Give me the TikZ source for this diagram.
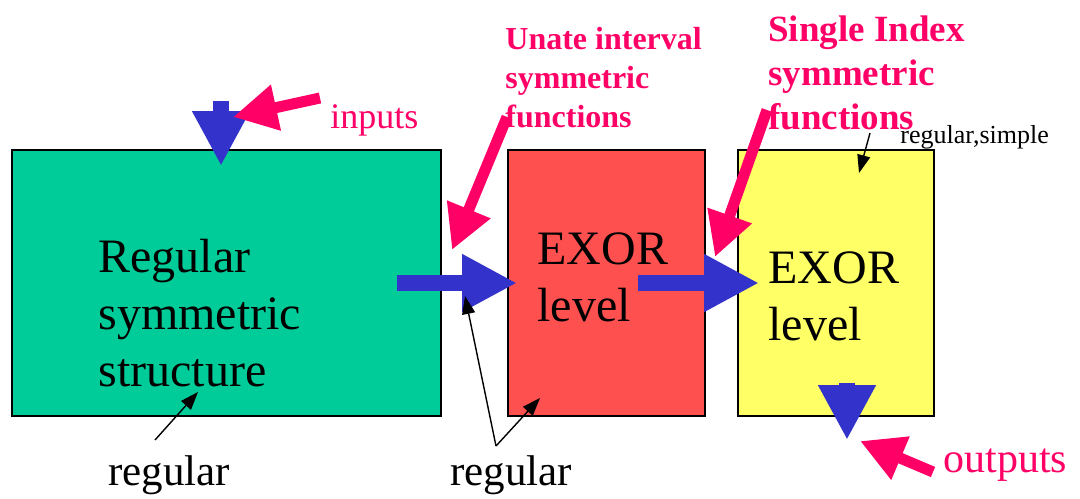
\documentclass[tikz,border=0pt]{standalone}
\usepackage{fontspec}
\setmainfont{Liberation Serif}
\usetikzlibrary{arrows.meta, positioning}
\definecolor{boxgreen}{HTML}{00CC99}
\definecolor{boxred}{HTML}{FF5050}
\definecolor{boxyellow}{HTML}{FFFF66}
\definecolor{flowblue}{HTML}{3333CC}
\definecolor{notepink}{HTML}{FF0066}
\tikzset{
  block/.style={rectangle, draw=black, line width=1pt, minimum height=133pt, outer sep=0pt, inner sep=0pt},
  blocktext/.style={anchor=north west, inner sep=0pt, align=left, font=\fontsize{24}{28.5}\selectfont},
  note/.style={inner sep=0pt, text=notepink},
  bignote/.style={note, anchor=north west, align=left, font=\bfseries\fontsize{16}{19.5}\selectfont},
  plain/.style={inner sep=0pt, anchor=base west, font=\fontsize{21.5}{26}\selectfont},
  flow/.style={flowblue, line width=8pt, -{Triangle[width=27pt,length=27.5pt]}},
  pointer/.style={notepink, line width=5.5pt, -{Triangle[width=22pt,length=22pt]}},
  marker/.style={black, line width=0.7pt, -{Triangle[width=6.5pt,length=9pt]}}
}
\begin{document}
\begin{tikzpicture}[x=0.5pt, y=-0.5pt]
  \useasboundingbox (0,0) rectangle (1080,498);

  % the three levels
  \node (green) [block, fill=boxgreen, minimum width=214.5pt] at (226.5,283) {};
  \node (red) [block, fill=boxred, minimum width=98.5pt, right=33.5pt of green] {};
  \node (yellow) [block, fill=boxyellow, minimum width=98pt, right=16.5pt of red] {};

  \node (greentext) [blocktext] at (98,239) {Regular\\symmetric\\structure};
  \node (redtext) [blocktext] at (537,232) {EXOR\\level};
  \node (yellowtext) [blocktext] at (768,251) {EXOR\\level};

  % labels
  \node (inputs) [note, anchor=base west, font=\fontsize{18}{22}\selectfont] at (330,128) {inputs};
  \node (outputs) [note, anchor=base west, font=\fontsize{21}{25}\selectfont] at (943,472) {outputs};
  \node (unate) [bignote] at (505,27) {Unate interval\\symmetric\\functions};
  \node (single) [bignote, font=\bfseries\fontsize{18.5}{22}\selectfont] at (768,15) {Single Index\\symmetric\\functions};
  \node (regsimple) [plain, font=\fontsize{13}{16}\selectfont] at (900,143) {regular,simple};
  \node (regleft) [plain] at (108,485) {regular};
  \node (regmid) [plain] at (450,485) {regular};

  % arrow ends
  \coordinate (in start) at (221,101);
  \coordinate (in end) at (221,166);
  \coordinate (gr start) at (397,283);
  \coordinate (gr end) at (517,283);
  \coordinate (ry start) at (638,283);
  \coordinate (ry end) at (759,283);
  \coordinate (out start) at (847,383);
  \coordinate (out end) at (847,440);

  \coordinate (inputs from) at (320,98);
  \coordinate (inputs to) at (233,117);
  \coordinate (unate from) at (507,117);
  \coordinate (unate to) at (452,250);
  \coordinate (single from) at (767,110);
  \coordinate (single to) at (715,257);
  \coordinate (outputs from) at (933,472);
  \coordinate (outputs to) at (860,441);

  \coordinate (regsimple from) at (870,133);
  \coordinate (regsimple to) at (859,173);
  \coordinate (regleft from) at (155,440);
  \coordinate (regleft to) at (198,392);
  \coordinate (regmid from) at (496,446);
  \coordinate (regmid gap) at (465,296);
  \coordinate (regmid red) at (540,398);

  % signal flow
  \draw [flow] (in start) -- (in end);
  \draw [flow] (gr start) -- (gr end);
  \draw [flow] (ry start) -- (ry end);
  \draw [flow] (out start) -- (out end);

  \draw [pointer] (inputs from) -- (inputs to);
  \draw [pointer] (unate from) -- (unate to);
  \draw [pointer] (single from) -- (single to);
  \draw [pointer] (outputs from) -- (outputs to);

  \draw [marker] (regsimple from) -- (regsimple to);
  \draw [marker] (regleft from) -- (regleft to);
  \draw [marker] (regmid from) -- (regmid gap);
  \draw [marker] (regmid from) -- (regmid red);

\end{tikzpicture}
\end{document}
